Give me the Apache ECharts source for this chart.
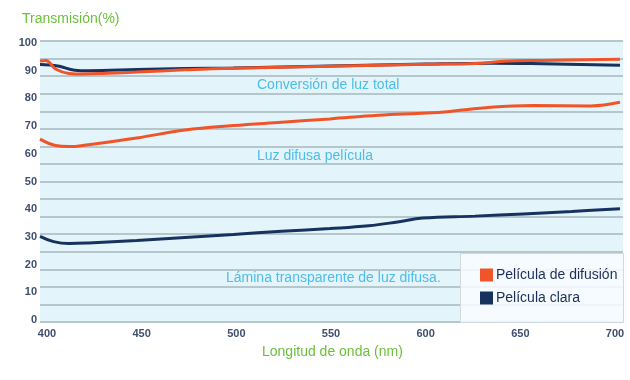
<!DOCTYPE html>
<html>
<head>
<meta charset="utf-8">
<script src="https://cdn.jsdelivr.net/npm/echarts@6/dist/echarts.min.js"></script>
<style>html,body{margin:0;padding:0;background:#fff}#c{width:630px;height:380px}</style>
</head>
<body>
<div id="c"></div>
<script>
// Wavelength (nm) / transmission (%) pairs
const difusionTotalX = [400, 403, 408, 415, 422, 435, 450, 475, 500, 550, 600, 625, 640, 660, 700];
const difusionTotalY = [93.5, 93.7, 90.6, 89.0, 88.8, 89.1, 89.5, 90.3, 90.9, 91.6, 92.3, 92.6, 93.4, 93.7, 94.1];
const claraTotalX = [400, 405, 410, 418, 425, 450, 475, 500, 550, 600, 634, 660, 700];
const claraTotalY = [92.2, 92.1, 91.6, 90.2, 90.0, 90.4, 90.8, 91.0, 91.7, 92.4, 92.7, 92.5, 92.0];
const difusionDifX = [400, 408, 415, 425, 450, 475, 500, 525, 550, 575, 600, 612, 633, 655, 685, 700];
const difusionDifY = [65.3, 63.0, 62.6, 63.3, 65.7, 68.6, 70.2, 71.4, 72.6, 73.9, 74.7, 75.3, 76.8, 77.4, 77.3, 78.6];
const claraDifX = [400, 407, 415, 425, 450, 475, 500, 525, 550, 570, 585, 598, 625, 650, 675, 700];
const claraDifY = [30.2, 28.3, 27.6, 27.8, 28.7, 29.8, 30.9, 32.0, 33.0, 34.0, 35.4, 36.8, 37.5, 38.3, 39.2, 40.2];
const xTicks = [400, 450, 500, 550, 600, 650, 700];
const yTicks = [0, 10, 20, 30, 40, 50, 60, 70, 80, 90, 100];
const seriesNames = ['Película de difusión', 'Película clara'];
const annotations = ['Conversión de luz total', 'Luz difusa película', 'Lámina transparente de luz difusa.'];
const yTitle = 'Transmisión(%)';
const xTitle = 'Longitud de onda (nm)';

const pairs = (xs, ys) => xs.map((x, i) => [x, ys[i]]);
const ORANGE = '#ef5529', NAVY = '#17325f';
const FONT = 'Liberation Sans, Arial, sans-serif';

const chart = echarts.init(document.getElementById('c'), null, {renderer: 'canvas'});
const lineS = (name, color, data) => ({
  type: 'line', name, xAxisIndex: 1, yAxisIndex: 1, data,
  smooth: 0.4, showSymbol: false, symbol: 'none',
  lineStyle: {color, width: 3}, itemStyle: {color}, z: 5
});
chart.setOption({
  animation: false,
  textStyle: {fontFamily: FONT},
  grid: [
    {left: 40, right: 7, top: 41, bottom: 58, show: true, backgroundColor: '#e4f4fb', borderWidth: 0},
    {left: 40, right: 10, top: 43, bottom: 60},
    {left: 47, right: 15, top: 43, bottom: 58}
  ],
  xAxis: [
    {gridIndex: 0, type: 'value', min: 0, max: 1, show: false},
    {gridIndex: 1, type: 'value', min: 400, max: 700, show: false},
    {gridIndex: 2, type: 'value', min: xTicks[0], max: xTicks[xTicks.length - 1], interval: 50,
     axisLine: {show: false}, axisTick: {show: false}, splitLine: {show: false},
     axisLabel: {margin: 6, color: '#3f4f70', fontSize: 11, fontWeight: 'bold', fontFamily: FONT}}
  ],
  yAxis: [
    {gridIndex: 0, type: 'value', min: 0, max: 16, interval: 1,
     axisLine: {show: false}, axisTick: {show: false}, axisLabel: {show: false},
     splitLine: {show: true, lineStyle: {color: '#b6c6cd', width: 2}}},
    {gridIndex: 1, type: 'value', min: yTicks[0], max: yTicks[yTicks.length - 1], interval: 10,
     axisLine: {show: false}, axisTick: {show: false}, splitLine: {show: false},
     axisLabel: {margin: 3, color: '#3f4f70', fontSize: 11, fontWeight: 'bold', fontFamily: FONT}},
    {gridIndex: 2, type: 'value', min: 0, max: 1, show: false}
  ],
  legend: {
    orient: 'vertical', left: 480, top: 268, padding: 0, itemWidth: 13, itemHeight: 13, itemGap: 9,
    icon: 'rect', data: seriesNames,
    textStyle: {color: '#1c2e58', fontSize: 14, fontFamily: FONT, padding: [0, 0, 0, -2]}
  },
  graphic: [
    {type: 'rect', left: 460, top: 253, shape: {width: 163, height: 69}, z: 3,
     style: {fill: 'rgba(248,252,254,0.85)', stroke: '#cfd9de', lineWidth: 1}},
    {type: 'text', left: 22, top: 12, z: 10, style: {text: yTitle, fill: '#6cbf3a', fontSize: 14, fontFamily: FONT}},
    {type: 'text', left: 262, top: 345, z: 10, style: {text: xTitle, fill: '#6cbf3a', fontSize: 14, fontFamily: FONT}},
    {type: 'text', left: 257, top: 78, z: 10, style: {text: annotations[0], fill: '#4dbdea', fontSize: 14, fontFamily: FONT}},
    {type: 'text', left: 257, top: 149, z: 10, style: {text: annotations[1], fill: '#4dbdea', fontSize: 14, fontFamily: FONT}},
    {type: 'text', left: 226, top: 271, z: 10, style: {text: annotations[2], fill: '#4dbdea', fontSize: 14, fontFamily: FONT}}
  ],
  series: [
    lineS(seriesNames[1], NAVY, pairs(claraTotalX, claraTotalY)),
    lineS(seriesNames[0], ORANGE, pairs(difusionTotalX, difusionTotalY)),
    lineS(seriesNames[0], ORANGE, pairs(difusionDifX, difusionDifY)),
    lineS(seriesNames[1], NAVY, pairs(claraDifX, claraDifY))
  ]
});
</script>
</body>
</html>
